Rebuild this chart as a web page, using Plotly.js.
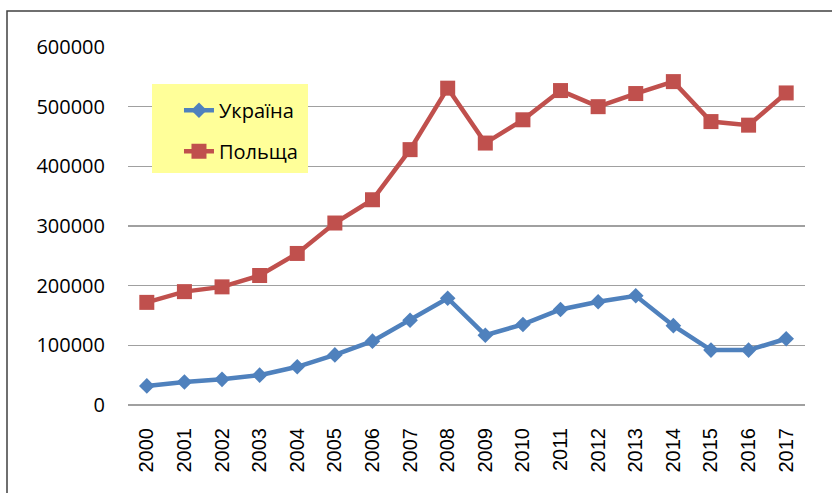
<!DOCTYPE html>
<html>
<head>
<meta charset="utf-8">
<script src="https://cdn.plot.ly/plotly-3.0.1.min.js"></script>
<style>
  html, body { margin: 0; padding: 0; background: #fff; }
  #chart { width: 832px; height: 493px; }
</style>
</head>
<body>
<div id="chart"></div>
<script>
const years = ["2000","2001","2002","2003","2004","2005","2006","2007","2008","2009","2010","2011","2012","2013","2014","2015","2016","2017"];
const ukraine = [32000, 38500, 43000, 50000, 64000, 84000, 107000, 142000, 179000, 117000, 135000, 160000, 173000, 183000, 133000, 92000, 92000, 111000];
const poland = [172000, 190000, 198000, 217000, 254000, 305000, 344000, 428000, 531000, 439000, 478000, 527000, 500000, 522000, 542000, 475000, 469000, 523000];
const yTicks = [0, 100000, 200000, 300000, 400000, 500000, 600000];
const seriesNames = ["Україна", "Польща"];

const traces = [
  {
    x: years, y: ukraine, name: seriesNames[0], type: "scatter", mode: "lines+markers",
    legendgroup: "a",
    line: { color: "#4F81BD", width: 4.5 },
    marker: { symbol: "diamond", size: 12, color: "#4F81BD" }
  },
  {
    x: years, y: poland, name: seriesNames[1], type: "scatter", mode: "lines+markers",
    legendgroup: "b",
    line: { color: "#C0504D", width: 4.5 },
    marker: { symbol: "square", size: 15, color: "#C0504D" }
  }
];

const layout = {
  width: 832, height: 493,
  margin: { l: 128, r: 27, t: 47, b: 88 },
  paper_bgcolor: "#ffffff",
  plot_bgcolor: "#ffffff",
  showlegend: true,
  xaxis: {
    type: "category",
    range: [-0.5, 17.5],
    showgrid: false,
    zeroline: false,
    showline: false,
    tickangle: -90,
    ticks: "outside", ticklen: 14, tickcolor: "rgba(0,0,0,0)",
    tickfont: { family: "Liberation Sans, Arial, sans-serif", size: 20, color: "#000" },
    fixedrange: true
  },
  yaxis: {
    range: [0, 600000],
    tickvals: yTicks,
    ticktext: yTicks.map(String),
    showgrid: true,
    gridcolor: "#A0A0A0",
    gridwidth: 1.5,
    zeroline: true,
    zerolinecolor: "#A0A0A0",
    zerolinewidth: 1.5,
    showline: false,
    ticks: "outside", ticklen: 18, tickcolor: "rgba(0,0,0,0)",
    tickfont: { family: "Open Sans, sans-serif", size: 20, color: "#000" },
    fixedrange: true
  },
  legend: {
    x: 0.0753, y: 0.878, xanchor: "left", yanchor: "top",
    bgcolor: "rgba(0,0,0,0)",
    borderwidth: 0,
    font: { family: "Open Sans, sans-serif", size: 20, color: "#000" },
    traceorder: "grouped",
    tracegroupgap: 12
  },
  shapes: [
    { type: "rect", xref: "paper", yref: "paper",
      x0: (152 - 128) / 677, x1: (308 - 128) / 677,
      y0: (405 - 173) / 358, y1: (405 - 84) / 358,
      fillcolor: "#FFFF99", line: { width: 0 }, layer: "above" },
    { type: "path", xref: "paper", yref: "paper",
      path: "M " + ((7 - 128) / 677) + "," + (-0.5) + " L " + ((7 - 128) / 677) + "," + ((405 - 11) / 358) + " L 1.2," + ((405 - 11) / 358),
      line: { color: "#404040", width: 1.5 }, layer: "above" }
  ]
};

Plotly.newPlot("chart", traces, layout, { displayModeBar: false, staticPlot: true });
</script>
</body>
</html>
